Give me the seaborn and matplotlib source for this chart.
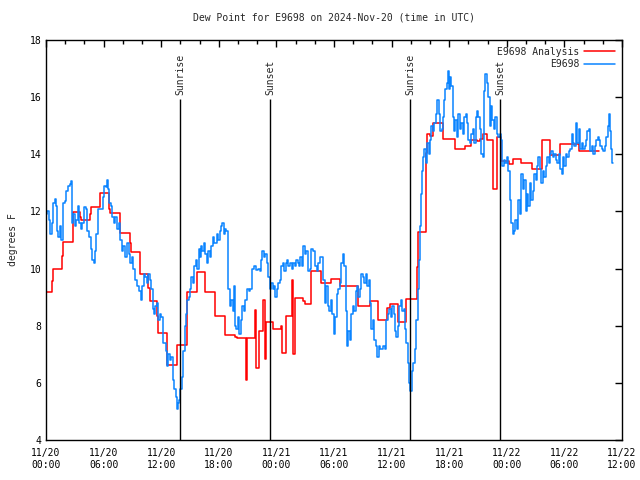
import pandas as pd
import numpy as np
import matplotlib
matplotlib.use("Agg")
import matplotlib.pyplot as plt
import matplotlib.dates as mdates
import seaborn as sns

# hours since 2024-11-20 00:00 UTC
obs_hours = [0.0, 0.15, 0.3, 0.45, 0.6, 0.75, 0.9, 1.0, 1.15, 1.3, 1.45, 1.6, 1.75, 1.95, 2.1, 2.3, 2.5, 2.6, 2.7, 2.85,
             3.0, 3.15, 3.3, 3.45, 3.6, 3.75, 3.95, 4.15, 4.3, 4.5, 4.65, 4.8, 4.95, 5.1, 5.25, 5.45, 5.7, 5.9, 6.05, 6.25,
             6.4, 6.5, 6.6, 6.75, 6.9, 7.05, 7.2, 7.4, 7.6, 7.75, 7.9, 8.05, 8.25, 8.45, 8.6, 8.8, 8.95, 9.1, 9.3, 9.5,
             9.7, 9.85, 10.0, 10.2, 10.35, 10.5, 10.65, 10.8, 10.95, 11.1, 11.25, 11.4, 11.55, 11.7, 11.85, 12.0, 12.15, 12.3, 12.45, 12.6,
             12.75, 12.9, 13.05, 13.2, 13.35, 13.5, 13.6, 13.7, 13.85, 14.0, 14.15, 14.3, 14.45, 14.55, 14.7, 14.85, 15.0, 15.15, 15.3, 15.45,
             15.6, 15.75, 15.9, 16.0, 16.15, 16.3, 16.45, 16.6, 16.75, 16.9, 17.05, 17.2, 17.35, 17.5, 17.65, 17.8, 17.95, 18.1, 18.25, 18.35,
             18.5, 18.65, 18.8, 18.95, 19.15, 19.3, 19.45, 19.55, 19.65, 19.8, 19.95, 20.1, 20.3, 20.45, 20.6, 20.75, 20.9, 21.1, 21.3, 21.45,
             21.65, 21.85, 22.05, 22.25, 22.4, 22.55, 22.7, 22.85, 23.0, 23.15, 23.3, 23.45, 23.6, 23.75, 23.9, 24.05, 24.2, 24.35, 24.5, 24.65,
             24.8, 24.95, 25.1, 25.25, 25.45, 25.6, 25.75, 25.9, 26.05, 26.2, 26.35, 26.5, 26.65, 26.8, 26.95, 27.1, 27.25, 27.45, 27.65, 27.85,
             28.0, 28.2, 28.35, 28.5, 28.7, 28.9, 29.05, 29.2, 29.35, 29.5, 29.65, 29.8, 29.95, 30.1, 30.3, 30.45, 30.6, 30.75, 30.9, 31.05,
             31.2, 31.35, 31.5, 31.65, 31.8, 31.95, 32.1, 32.25, 32.4, 32.55, 32.7, 32.85, 33.0, 33.15, 33.3, 33.45, 33.6, 33.75, 33.9, 34.05,
             34.2, 34.35, 34.5, 34.65, 34.8, 34.95, 35.1, 35.3, 35.45, 35.6, 35.75, 35.9, 36.05, 36.2, 36.35, 36.5, 36.65, 36.8, 36.95, 37.1,
             37.25, 37.4, 37.55, 37.7, 37.85, 37.95, 38.1, 38.25, 38.4, 38.55, 38.7, 38.85, 39.0, 39.1, 39.2, 39.3, 39.4, 39.55, 39.7, 39.85,
             40.0, 40.15, 40.3, 40.45, 40.6, 40.75, 40.9, 41.05, 41.2, 41.35, 41.5, 41.6, 41.75, 41.85, 41.95, 42.05, 42.2, 42.35, 42.5, 42.65,
             42.8, 42.95, 43.1, 43.25, 43.4, 43.55, 43.7, 43.85, 44.0, 44.15, 44.3, 44.45, 44.6, 44.75, 44.9, 45.05, 45.2, 45.35, 45.5, 45.65,
             45.75, 45.9, 46.05, 46.2, 46.35, 46.5, 46.65, 46.8, 46.95, 47.1, 47.25, 47.4, 47.55, 47.7, 47.85, 48.0, 48.15, 48.3, 48.45, 48.6,
             48.75, 48.9, 49.05, 49.2, 49.35, 49.5, 49.65, 49.8, 49.95, 50.1, 50.25, 50.4, 50.55, 50.7, 50.85, 51.0, 51.15, 51.3, 51.45, 51.6,
             51.75, 51.9, 52.05, 52.2, 52.35, 52.5, 52.65, 52.8, 52.95, 53.1, 53.25, 53.4, 53.55, 53.7, 53.85, 54.0, 54.15, 54.3, 54.45, 54.6,
             54.75, 54.9, 55.05, 55.2, 55.35, 55.5, 55.65, 55.8, 55.95, 56.1, 56.25, 56.4, 56.55, 56.7, 56.85, 57.0, 57.15, 57.3, 57.45, 57.6,
             57.75, 57.9, 58.05, 58.2, 58.35, 58.5, 58.65, 58.75, 58.85, 59.0, 59.1]
obs_dewpt = [11.9, 12.0, 11.7, 11.2, 11.6, 12.3, 12.45, 12.2, 11.3, 11.1, 11.5, 11.0, 12.3, 12.35, 12.7, 12.9, 12.95, 13.05, 11.6, 11.9,
             11.5, 11.7, 12.2, 11.6, 11.4, 11.6, 12.15, 12.1, 11.3, 11.1, 10.7, 10.3, 10.2, 10.6, 11.2, 12.1, 12.1, 12.5, 12.9, 12.85,
             13.1, 12.8, 12.3, 12.2, 11.8, 11.6, 11.8, 11.4, 11.6, 11.0, 10.6, 10.8, 10.4, 10.9, 10.5, 10.2, 10.4, 10.0, 9.6, 9.4,
             9.2, 8.9, 9.4, 9.8, 9.7, 9.5, 9.8, 9.6, 9.3, 8.6, 8.4, 8.7, 8.8, 8.2, 8.4, 8.3, 7.4, 7.4, 7.1, 6.6,
             7.0, 6.8, 6.9, 6.1, 5.8, 5.5, 5.1, 5.3, 5.4, 5.8, 6.2, 7.1, 8.0, 8.4, 8.9, 9.0, 9.3, 9.7, 9.5, 10.1,
             10.3, 10.0, 10.7, 10.4, 10.8, 10.6, 10.9, 10.5, 10.2, 10.6, 10.4, 10.8, 11.1, 10.9, 10.9, 11.2, 11.0, 11.3, 11.5, 11.6,
             11.2, 11.4, 11.3, 9.3, 8.7, 8.9, 8.5, 9.4, 8.0, 7.9, 8.3, 7.7, 8.2, 8.7, 8.5, 8.9, 9.3, 9.2, 9.3, 10.0,
             10.1, 9.95, 10.0, 9.9, 10.3, 10.6, 10.4, 10.5, 10.2, 9.7, 9.3, 9.5, 9.3, 9.4, 9.0, 9.3, 9.5, 9.6, 10.1, 10.2,
             9.9, 10.2, 10.3, 10.1, 10.2, 10.0, 10.2, 10.1, 10.3, 10.2, 10.1, 10.4, 10.1, 10.8, 10.5, 10.6, 9.9, 10.0, 10.7, 10.6,
             10.1, 9.9, 10.2, 10.4, 10.4, 9.6, 8.8, 9.4, 8.7, 8.5, 8.9, 8.4, 7.7, 8.3, 9.1, 9.3, 9.5, 10.2, 10.5, 10.1,
             8.5, 7.3, 7.8, 7.5, 8.4, 8.7, 8.5, 9.2, 9.4, 9.0, 9.3, 9.8, 9.7, 9.5, 9.8, 9.4, 9.6, 8.8, 7.9, 8.2,
             7.5, 7.3, 6.9, 7.3, 7.2, 7.2, 7.3, 7.2, 8.2, 8.4, 8.6, 8.3, 8.7, 8.4, 7.8, 7.6, 8.0, 8.7, 8.9, 8.5,
             8.6, 7.9, 7.4, 6.7, 6.0, 5.7, 6.4, 6.7, 7.2, 8.2, 9.3, 10.3, 11.5, 12.6, 13.4, 13.9, 14.2, 13.7, 14.4, 14.0,
             14.5, 15.0, 14.8, 15.1, 15.4, 15.9, 15.4, 14.8, 14.9, 15.3, 15.9, 16.3, 16.5, 16.9, 16.3, 16.7, 16.4, 15.3, 14.8, 15.2,
             14.6, 15.4, 14.9, 15.1, 14.7, 15.3, 15.4, 15.1, 14.5, 14.4, 14.7, 14.9, 14.4, 15.3, 15.5, 15.3, 14.9, 14.0, 13.9, 16.2,
             16.8, 16.5, 16.0, 15.0, 15.7, 15.2, 14.9, 15.3, 14.7, 14.6, 14.7, 14.5, 13.6, 13.8, 13.7, 13.9, 13.4, 12.4, 11.6, 11.2,
             11.3, 11.7, 11.4, 12.4, 11.9, 13.3, 12.8, 13.1, 12.0, 12.6, 12.2, 13.0, 12.4, 12.7, 13.3, 13.1, 13.6, 13.9, 13.5, 13.0,
             13.4, 13.2, 13.6, 13.9, 13.7, 14.0, 14.1, 13.9, 14.0, 13.8, 13.7, 14.0, 13.5, 13.3, 13.9, 13.6, 14.0, 13.9, 14.1, 14.2,
             14.7, 14.4, 14.3, 15.1, 14.4, 14.9, 14.2, 14.4, 14.2, 14.3, 14.5, 14.8, 14.9, 14.1, 14.3, 14.0, 14.3, 14.5, 14.6, 14.5,
             14.3, 14.2, 14.1, 14.3, 14.6, 15.0, 15.4, 14.8, 14.2, 13.7, 13.7]

ana_hours = [0.0, 0.65, 0.75, 1.7, 1.8, 2.8, 3.5, 3.65, 4.6, 4.7, 5.6, 6.6, 6.7, 7.7, 8.7, 8.9, 9.8, 10.66, 10.8, 11.6,
             11.7, 12.6, 13.6, 14.7, 15.7, 16.6, 17.6, 18.6, 19.7, 19.9, 20.85, 20.95, 21.75, 21.85, 22.2, 22.65, 22.8, 22.95, 23.6, 24.5,
             24.6, 24.95, 25.6, 25.7, 25.9, 26.8, 26.98, 27.57, 28.6, 29.7, 30.6, 32.5, 33.75, 34.6, 35.5, 35.8, 36.7, 37.5, 38.6, 38.7,
             39.6, 39.65, 40.0, 40.3, 41.4, 42.6, 43.6, 44.3, 44.9, 45.2, 45.5, 45.9, 46.55, 46.95, 47.0, 47.4, 48.2, 48.6, 49.5, 50.6,
             51.7, 52.5, 53.5, 55.5, 57.6]
ana_dewpt = [9.17, 9.56, 9.97, 10.44, 10.92, 11.97, 11.82, 11.69, 11.9, 12.14, 12.63, 12.1, 11.93, 11.23, 10.88, 10.57, 9.8, 9.31, 8.86, 8.35,
             7.73, 6.62, 7.31, 9.17, 9.87, 9.19, 8.33, 7.66, 7.62, 7.57, 6.1, 7.57, 8.55, 6.52, 7.8, 8.9, 6.83, 8.14, 7.9, 8.0,
             7.06, 8.33, 9.6, 7.0, 8.96, 8.85, 8.76, 9.9, 9.48, 9.62, 9.38, 8.69, 8.86, 8.2, 8.62, 8.75, 8.12, 8.92, 10.07, 11.29,
             14.03, 14.71, 14.65, 15.08, 14.52, 14.17, 14.3, 14.5, 14.45, 14.55, 14.71, 14.5, 12.78, 13.5, 14.6, 13.78, 13.66, 13.82, 13.7, 13.47,
             14.5, 13.97, 14.35, 14.11, 14.11]

sun_hours = [13.99, 23.36, 37.95, 47.32]
sun_labels = ["Sunrise", "Sunset", "Sunrise", "Sunset"]

start = pd.Timestamp("2024-11-20 00:00")
obs_df = pd.DataFrame({"time": start + pd.to_timedelta(obs_hours, unit="h"), "dewpt": obs_dewpt})
ana_df = pd.DataFrame({"time": start + pd.to_timedelta(ana_hours, unit="h"), "dewpt": ana_dewpt})
sun_times = start + pd.to_timedelta(sun_hours, unit="h")

sns.set_style("white")
plt.rcParams["font.family"] = ["DejaVu Sans Mono"]
plt.rcParams["font.size"] = 7

fig = plt.figure(figsize=(6.4, 4.8), dpi=100)
ax = fig.add_axes([46 / 640, 40 / 480, 576 / 640, 400 / 480])

sns.lineplot(data=ana_df, x="time", y="dewpt", ax=ax, color="#ff0000", lw=1.1,
             drawstyle="steps-post", estimator=None, label="E9698 Analysis")
sns.lineplot(data=obs_df, x="time", y="dewpt", ax=ax, color="#0a84ff", lw=1.1,
             drawstyle="steps-post", estimator=None, label="E9698")

top = 15.93
ax.vlines(sun_times, 4, top, colors="black", lw=1.0)
for t, lab in zip(sun_times, sun_labels):
    ax.annotate(lab, (t, top), xytext=(0, 3), textcoords="offset points",
                rotation=90, ha="center", va="bottom", fontsize=7)

ax.set_xlim(start, start + pd.Timedelta(hours=60))
ax.set_ylim(4, 18)
ax.set_yticks(np.arange(4, 19, 2))
ax.xaxis.set_major_locator(mdates.HourLocator(byhour=[0, 6, 12, 18]))
ax.xaxis.set_minor_locator(mdates.HourLocator(interval=2))
ax.xaxis.set_major_formatter(mdates.DateFormatter("%m/%d\n%H:%M"))
ax.tick_params(which="both", direction="in", top=True, right=True, colors="black", labelsize=7)
ax.tick_params(which="major", length=5, width=1)
ax.tick_params(which="minor", length=3, width=1)
ax.tick_params(axis="x", pad=6)
for s in ax.spines.values():
    s.set_color("black")
    s.set_linewidth(1.0)

ax.set_xlabel("")
ax.set_ylabel("degrees F", fontsize=7, labelpad=8)
ax.set_title("Dew Point for E9698 on 2024-Nov-20 (time in UTC)", fontsize=7, pad=14)
ax.legend(loc="upper right", bbox_to_anchor=(1.0, 1.0), frameon=False, markerfirst=False,
          handlelength=3.2, handletextpad=0.5, labelspacing=0.25, borderaxespad=0.3, fontsize=7)

fig.savefig("out.png", dpi=100)
